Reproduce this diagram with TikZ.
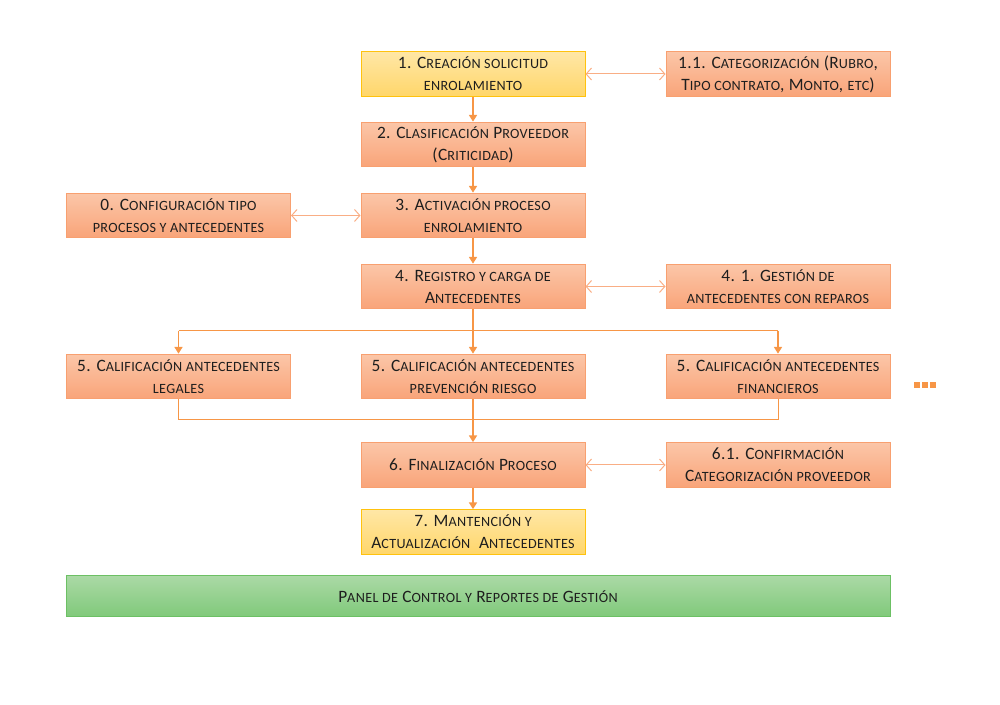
\documentclass[tikz,border=0pt]{standalone}
\usepackage{fontspec}
\setmainfont{Carlito}[LetterSpace=2.5]
\usetikzlibrary{arrows.meta}
\definecolor{boxtop}{HTML}{FBC6A8}
\definecolor{boxbot}{HTML}{F9A479}
\definecolor{boxline}{HTML}{F8A070}
\definecolor{ytop}{HTML}{FFE7A6}
\definecolor{ybot}{HTML}{FFD66A}
\definecolor{yline}{HTML}{FFC20E}
\definecolor{gtop}{HTML}{AAD9A5}
\definecolor{gbot}{HTML}{80C97A}
\definecolor{gline}{HTML}{6CC064}
\definecolor{arr}{HTML}{F79646}
\definecolor{arrlight}{HTML}{F9AE85}
\definecolor{txt}{HTML}{1E1E1E}
\newcommand\s[1]{{\fontsize{10.6pt}{16.5pt}\selectfont\MakeUppercase{#1}}}
\tikzset{
  stepbox/.style={rectangle, draw=boxline, line width=0.75pt, top color=boxtop, bottom color=boxbot,
    minimum width=168pt, minimum height=33.5pt, inner sep=0pt, align=center, text=txt,
    font=\fontsize{13pt}{16.5pt}\selectfont},
  ybox/.style={stepbox, draw=yline, top color=ytop, bottom color=ybot},
  gbox/.style={stepbox, draw=gline, top color=gtop, bottom color=gbot, minimum width=618pt, minimum height=30.75pt},
  flow/.style={draw=arr, line width=0.9pt, -{Triangle[width=6pt,length=5pt]}},
  flowline/.style={draw=arr, line width=0.75pt},
  link/.style={draw=arrlight, line width=0.75pt, {Straight Barb[length=4pt,width=9pt]}-{Straight Barb[length=4pt,width=9pt]}},
  dot/.style={fill=arr, draw=none}
}
\begin{document}
\begin{tikzpicture}[x=0.75pt,y=-0.75pt]
\useasboundingbox (0,0) rectangle (1000,705);
\node[ybox] (b1) at (473,74) {1. C\s{reación solicitud}\\\s{enrolamiento}};
\node[stepbox] (b11) at (778,74) {1.1. C\s{ategorización} (R\s{ubro},\\T\s{ipo contrato}, M\s{onto}, \s{etc})};
\node[stepbox] (b2) at (473,144.5) {2. C\s{lasificación} P\s{roveedor}\\(C\s{riticidad})};
\node[stepbox] (b0) at (178.5,215.5) {0. C\s{onfiguración tipo}\\\s{procesos y antecedentes}};
\node[stepbox] (b3) at (473,215.5) {3. A\s{ctivación proceso}\\\s{enrolamiento}};
\node[stepbox] (b4) at (473,286.5) {4. R\s{egistro y carga de}\\A\s{ntecedentes}};
\node[stepbox] (b41) at (778,286.5) {4. 1. G\s{estión de}\\\s{antecedentes con reparos}};
\node[stepbox] (b5a) at (178.5,376.5) {5. C\s{alificación antecedentes}\\\s{legales}};
\node[stepbox] (b5b) at (473,376.5) {5. C\s{alificación antecedentes}\\\s{prevención riesgo}};
\node[stepbox] (b5c) at (778,376.5) {5. C\s{alificación antecedentes}\\\s{financieros}};
\node[stepbox] (b6) at (473,465) {6. F\s{inalización} P\s{roceso}};
\node[stepbox] (b61) at (778,465) {6.1. C\s{onfirmación}\\C\s{ategorización proveedor}};
\node[ybox] (b7) at (473,532) {7. M\s{antención y}\\A\s{ctualización}\ \ A\s{ntecedentes}};
\node[gbox] (panel) at (478,596.5) {P\s{anel de} C\s{ontrol y} R\s{eportes de} G\s{estión}};
% dots
\node[dot, minimum size=4.5pt, inner sep=0pt] (d1) at (916.5,385) {};
\node[dot, minimum size=4.5pt, inner sep=0pt] (d2) at (924.5,385) {};
\node[dot, minimum size=4.5pt, inner sep=0pt] (d3) at (932.5,385) {};
% coordinates
\coordinate (foL) at (178.5,331);
\coordinate (foR) at (778,331);
\coordinate (fiL) at (178.5,420);
\coordinate (fiR) at (778,420);
% main flow
\draw[flow] (b1) -- (b2);
\draw[flow] (b2) -- (b3);
\draw[flow] (b3) -- (b4);
\draw[flow] (b4) -- (b5b);
\draw[flowline] (foL) -- (foR);
\draw[flow] (foL) -- (b5a);
\draw[flow] (foR) -- (b5c);
\draw[flowline] (b5a) -- (fiL) -- (fiR) -- (b5c);
\draw[flow] (b5b) -- (b6);
\draw[flow] (b6) -- (b7);
% links
\draw[link] (b1) -- (b11);
\draw[link] (b0) -- (b3);
\draw[link] (b4) -- (b41);
\draw[link] (b6) -- (b61);
\end{tikzpicture}
\end{document}
